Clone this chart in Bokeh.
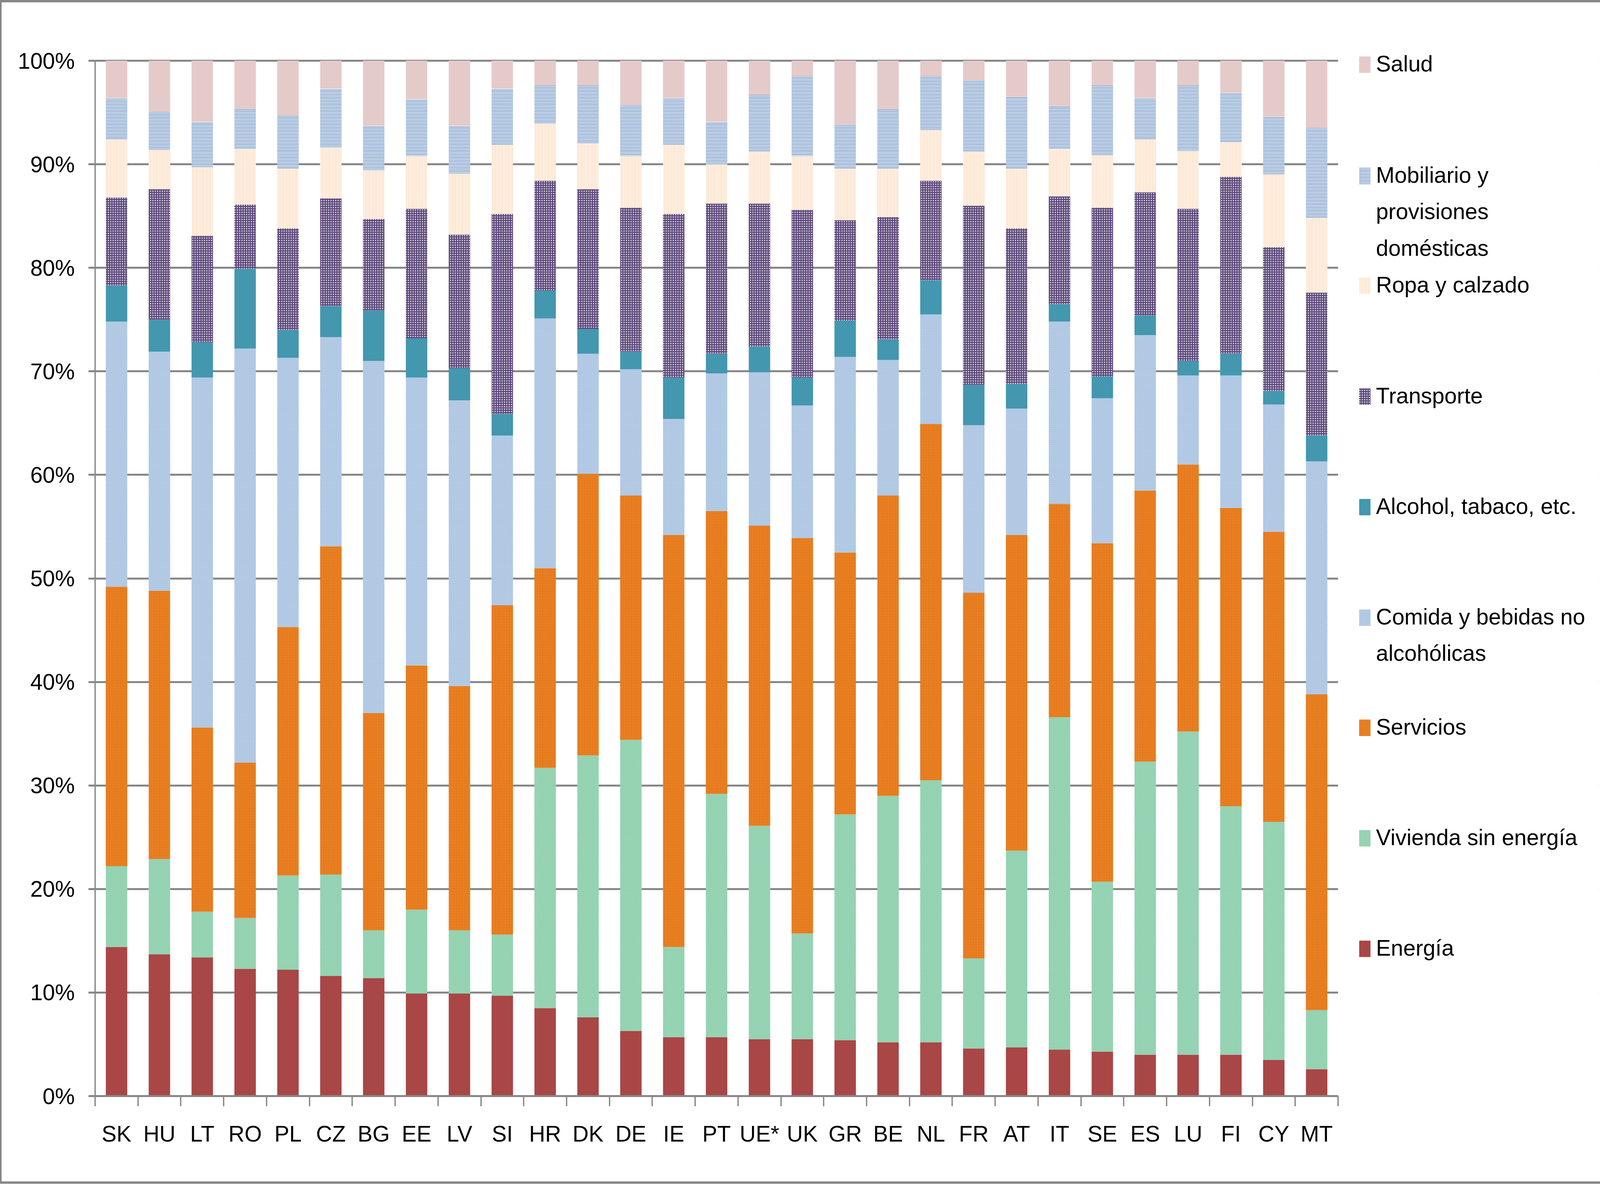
from bokeh.plotting import figure
from bokeh.models import (ColumnDataSource, Range1d, FixedTicker, PrintfTickFormatter,
                          CustomJSTickFormatter)
from bokeh.layouts import row
from bokeh.transform import stack
from bokeh.core.properties import value
from bokeh.embed import file_html
from bokeh.resources import INLINE

countries = ["SK", "HU", "LT", "RO", "PL", "CZ", "BG", "EE", "LV", "SI", "HR", "DK", "DE", "IE",
             "PT", "UE*", "UK", "GR", "BE", "NL", "FR", "AT", "IT", "SE", "ES", "LU", "FI", "CY", "MT"]

energia = [14.4, 13.7, 13.4, 12.3, 12.2, 11.6, 11.4, 9.9, 9.9, 9.7, 8.5, 7.6, 6.3, 5.7, 5.7, 5.5,
           5.5, 5.4, 5.2, 5.2, 4.6, 4.7, 4.5, 4.3, 4.0, 4.0, 4.0, 3.5, 2.6]
vivienda = [7.8, 9.2, 4.4, 4.9, 9.1, 9.8, 4.6, 8.1, 6.1, 5.9, 23.2, 25.3, 28.1, 8.7, 23.5, 20.6,
            10.2, 21.8, 23.8, 25.3, 8.7, 19.0, 32.1, 16.4, 28.3, 31.2, 24.0, 23.0, 5.7]
servicios = [27.0, 25.9, 17.8, 15.0, 24.0, 31.7, 21.0, 23.6, 23.6, 31.8, 19.3, 27.2, 23.6, 39.8,
             27.3, 29.0, 38.2, 25.3, 29.0, 34.4, 35.3, 30.5, 20.6, 32.7, 26.2, 25.8, 28.8, 28.0, 30.5]
comida = [25.6, 23.1, 33.8, 40.0, 26.0, 20.2, 34.0, 27.8, 27.6, 16.4, 24.1, 11.6, 12.2, 11.2, 13.3,
          14.8, 12.8, 18.9, 13.1, 10.6, 16.2, 12.2, 17.6, 14.0, 15.0, 8.6, 12.8, 12.3, 22.5]
alcohol = [3.5, 3.1, 3.4, 7.7, 2.7, 3.0, 4.9, 3.8, 3.1, 2.1, 2.7, 2.4, 1.7, 4.0, 1.9, 2.5, 2.7, 3.5,
           2.0, 3.3, 3.9, 2.4, 1.7, 2.1, 1.9, 1.4, 2.1, 1.3, 2.5]
transporte = [8.5, 12.6, 10.3, 6.2, 9.8, 10.4, 8.8, 12.5, 12.9, 19.3, 10.6, 13.5, 13.9, 15.8, 14.5,
              13.8, 16.2, 9.7, 11.8, 9.6, 17.3, 15.0, 10.4, 16.3, 11.9, 14.7, 17.1, 13.9, 13.8]
ropa = [5.6, 3.8, 6.6, 5.4, 5.8, 4.9, 4.7, 5.1, 5.9, 6.7, 5.5, 4.4, 5.0, 6.7, 3.8, 5.0, 5.2, 5.0,
        4.7, 4.9, 5.2, 5.8, 4.6, 5.1, 5.1, 5.6, 3.3, 7.0, 7.2]
mobiliario = [4.0, 3.7, 4.4, 3.8, 5.1, 5.7, 4.3, 5.5, 4.6, 5.4, 3.7, 5.6, 4.9, 4.5, 4.1, 5.5, 7.7,
              4.2, 5.7, 5.2, 6.9, 6.9, 4.1, 6.7, 4.0, 6.3, 4.8, 5.6, 8.7]
salud = [3.6, 4.9, 5.9, 4.7, 5.3, 2.7, 6.3, 3.7, 6.3, 2.7, 2.4, 2.4, 4.3, 3.6, 5.9, 3.3, 1.5, 6.2,
         4.7, 1.5, 1.9, 3.5, 4.4, 2.4, 3.6, 2.4, 3.1, 5.4, 6.5]

series_keys = ["energia", "vivienda", "servicios", "comida", "alcohol", "transporte", "ropa",
               "mobiliario", "salud"]
series_labels = ["Energía", "Vivienda sin energía", "Servicios", "Comida y bebidas no\nalcohólicas",
                 "Alcohol, tabaco, etc.", "Transporte", "Ropa y calzado",
                 "Mobiliario y\nprovisiones\ndomésticas", "Salud"]
y_ticks = [0, 10, 20, 30, 40, 50, 60, 70, 80, 90, 100]

styles = {
    "energia":    dict(fill_color="#A94646", hatch_pattern=None),
    "vivienda":   dict(fill_color="#F2FCF6", hatch_pattern="left_diagonal_line", hatch_color="#22A060",
                       hatch_scale=5.4, hatch_weight=1.1),
    "servicios":  dict(fill_color="#E36C0A", hatch_pattern="dot", hatch_color="#F8C880",
                       hatch_scale=4, hatch_weight=0.8),
    "comida":     dict(fill_color="#F4FAFF", hatch_pattern="right_diagonal_line", hatch_color="#5081BC",
                       hatch_scale=5.4, hatch_weight=1.0),
    "alcohol":    dict(fill_color="#4397AF", hatch_pattern=None),
    "transporte": dict(fill_color="#5F4B7D", hatch_pattern="dot", hatch_color="#FFFFFF",
                       hatch_scale=6, hatch_weight=0.5),
    "ropa":       dict(fill_color="#FFFFFF", hatch_pattern="vertical_line", hatch_color="#FBD3AE",
                       hatch_scale=3.4, hatch_weight=1.7),
    "mobiliario": dict(fill_color="#FFFFFF", hatch_pattern="horizontal_line", hatch_color="#5A86BC",
                       hatch_scale=3.4, hatch_weight=1.7),
    "salud":      dict(fill_color="#F3E2E2", hatch_pattern="diagonal_cross", hatch_color="#D0A3A3",
                       hatch_scale=3, hatch_weight=0.7),
}

FONT = "Liberation Sans"
FS_PX = 57
FS = f"{FS_PX}px"
GRAY = "#878787"

# ---- page layout (CSS px) ----
BORDER_V, BORDER_H = 6, 4          # top/bottom, left/right border widths
ORIGIN_X, ORIGIN_Y = 8 + BORDER_H, 8 + BORDER_V
W, H = 4095, 3019
PX_LEFT, PX_BAR_RIGHT, PX_RIGHT = 251, 3433, 4100   # frame left, end of category axis, frame right
PY_TOP, PY_100, PY_0 = 30, 163, 2814                # frame top, 100% line, 0% line

n = len(countries)
x_end = n * (PX_RIGHT - PX_LEFT) / (PX_BAR_RIGHT - PX_LEFT)
y_end = 100 * (PY_0 - PY_TOP) / (PY_0 - PY_100)

x = [i + 0.5 for i in range(n)]
source = ColumnDataSource(dict(x=x, energia=energia, vivienda=vivienda, servicios=servicios,
                               comida=comida, alcohol=alcohol, transporte=transporte, ropa=ropa,
                               mobiliario=mobiliario, salud=salud))

p = figure(width=W, height=H, x_range=Range1d(0, x_end), y_range=Range1d(0, y_end),
           toolbar_location=None, output_backend="svg",
           min_border_left=PX_LEFT - ORIGIN_X, min_border_right=W - (PX_RIGHT - ORIGIN_X),
           min_border_top=PY_TOP - ORIGIN_Y, min_border_bottom=H - (PY_0 - ORIGIN_Y))
p.outline_line_color = None
p.background_fill_color = "white"
p.border_fill_color = "white"

# pixel-space ranges for the legend panel (same frame)
p.extra_x_ranges = {"px": Range1d(PX_LEFT, PX_RIGHT)}
p.extra_y_ranges = {"px": Range1d(PY_0, PY_TOP)}

for i, key in enumerate(series_keys):
    st = dict(styles[key])
    if st.get("hatch_pattern") is None:
        st.pop("hatch_pattern")
    p.vbar(x="x", width=0.5, bottom=stack(*series_keys[:i]) if i else 0,
           top=stack(*series_keys[:i + 1]), source=source, line_color=None, **st)

# keep gridlines out of the legend panel
p.quad(left=[n], right=[x_end], bottom=[0], top=[y_end], fill_color="white", line_color=None)

p.xgrid.visible = False
p.ygrid.ticker = FixedTicker(ticks=y_ticks)
p.ygrid.grid_line_color = GRAY
p.ygrid.grid_line_width = 5
p.ygrid.level = "underlay"

ya = p.yaxis[0]
ya.bounds = (0, 100)
ya.ticker = FixedTicker(ticks=y_ticks)
ya.formatter = PrintfTickFormatter(format="%d%%")
ya.axis_line_color = GRAY
ya.axis_line_width = 3.4
ya.major_tick_line_color = GRAY
ya.major_tick_line_width = 5
ya.major_tick_out = 17
ya.major_tick_in = 0
ya.minor_tick_line_color = None
ya.major_label_standoff = 35
ya.major_label_text_font = FONT
ya.major_label_text_font_size = FS
ya.major_label_text_color = "black"

xa = p.xaxis[0]
xa.bounds = (0, n)
xa.ticker = FixedTicker(ticks=x, minor_ticks=list(range(n + 1)))
xa.formatter = CustomJSTickFormatter(args=dict(labels=countries),
                                     code="return labels[Math.floor(tick)];")
xa.axis_line_color = GRAY
xa.axis_line_width = 5
xa.major_tick_line_color = None
xa.major_tick_out = 0
xa.major_tick_in = 0
xa.minor_tick_line_color = GRAY
xa.minor_tick_line_width = 3.4
xa.minor_tick_out = 26
xa.minor_tick_in = 0
xa.major_label_standoff = 38
xa.major_label_text_font = FONT
xa.major_label_text_font_size = FS
xa.major_label_text_color = "black"

# ---- legend (page px coordinates) ----
legend_order = list(reversed(range(len(series_keys))))  # Salud first
entry_y = [170, 455, 736, 1020, 1303, 1586, 1868, 2151, 2434]
line_step = 93.5
sq_x, sq_w, sq_h = 3501.5, 29, 42
txt_x = 3530
for pos, si in enumerate(legend_order):
    key = series_keys[si]
    st = dict(styles[key])
    if st.get("hatch_pattern") is None:
        st.pop("hatch_pattern")
    cy = entry_y[pos]
    p.rect(x=[sq_x], y=[cy + 3], width=sq_w, height=sq_h, line_color=None,
           x_range_name="px", y_range_name="px", **st)
    lines = series_labels[si].split("\n")
    p.text(x=[txt_x] * len(lines),
           y=[cy + k * line_step for k in range(len(lines))],
           text=lines, text_font=value(FONT), text_font_size=FS, text_color="black",
           text_align="left", text_baseline="middle", x_range_name="px", y_range_name="px")

layout = row(p)
layout.styles = {"border-style": "solid", "border-color": GRAY,
                 "border-width": f"{BORDER_V}px {BORDER_H}px"}

open("out.html", "w").write(file_html(layout, INLINE))
